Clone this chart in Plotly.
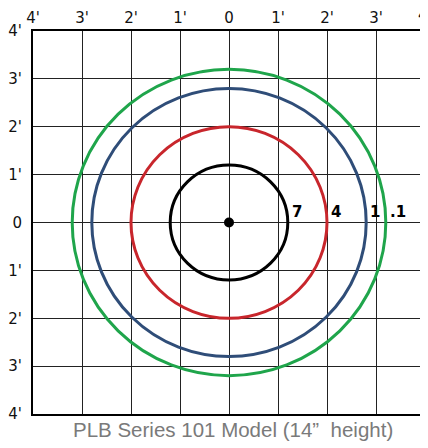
import plotly.graph_objects as go

# Data
tick_vals = [-4, -3, -2, -1, 0, 1, 2, 3, 4]
tick_text = ["4'", "3'", "2'", "1'", "0", "1'", "2'", "3'", "4'"]
radii = [1.2, 2.0, 2.8, 3.2]
ring_labels = ["7", "4", "1", ".1"]
ring_colors = ["#000000", "#c8262c", "#2f4d78", "#1fa54b"]
title_text = "PLB Series 101 Model (14\u201d  height)"

fig = go.Figure()

# center point
fig.add_trace(go.Scatter(x=[0], y=[0], mode="markers",
                         marker=dict(color="black", size=10),
                         showlegend=False, hoverinfo="skip"))

for r, lab, col in zip(radii, ring_labels, ring_colors):
    fig.add_shape(type="circle", xref="x", yref="y",
                  x0=-r, x1=r, y0=-r, y1=r,
                  line=dict(color=col, width=3))
    fig.add_annotation(x=r, y=0, xref="x", yref="y", text=lab,
                       showarrow=False, xanchor="left", yanchor="middle",
                       xshift=2, yshift=11,
                       font=dict(family="DejaVu Sans", size=15, color="black", weight="bold"))

# the last top tick label, which runs off the right edge in the reference
fig.add_annotation(x=tick_vals[-1], y=1, xref="x", yref="paper", text=tick_text[-1],
                   showarrow=False, xanchor="center", yanchor="middle", yshift=16,
                   font=dict(family="DejaVu Sans", size=15, color="#111111"))

fig.add_annotation(x=0.097, y=-0.004, xref="paper", yref="paper",
                   text=title_text, showarrow=False,
                   xanchor="left", yanchor="top",
                   font=dict(family="Liberation Sans", size=20.5, color="#7a7a7a"))

axis_common = dict(range=[-4, 4], tickvals=tick_vals, ticktext=tick_text,
                   showgrid=True, gridcolor="#222222", gridwidth=1,
                   zeroline=True, zerolinecolor="#222222", zerolinewidth=1,
                   showline=True, linecolor="black", linewidth=2, mirror=True,
                   ticks="", automargin=False,
                   tickfont=dict(family="DejaVu Sans", size=15, color="#111111"),
                   fixedrange=True)

fig.update_xaxes(side="top", **axis_common)
fig.update_yaxes(ticklabelstandoff=6, **axis_common)

# page body adds an 8px offset; figure sized so the plot lands where the reference has it
fig.update_layout(width=420, height=440,
                  margin=dict(l=25, r=3, t=23, b=34),
                  plot_bgcolor="white", paper_bgcolor="white",
                  showlegend=False)

fig.write_html("out.html")
